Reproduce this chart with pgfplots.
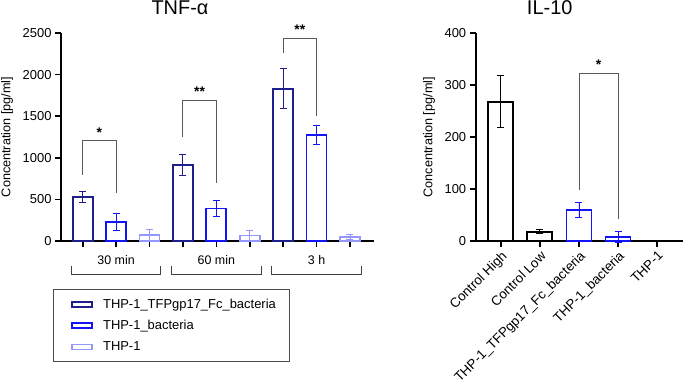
\documentclass[border=0pt]{standalone}
\usepackage{fontspec}
\setmainfont{Liberation Sans}
\usepackage{pgfplots}
\pgfplotsset{compat=1.18}

\definecolor{cfc}{RGB}{30,30,140}
\definecolor{cbac}{RGB}{20,20,250}
\definecolor{cthp}{RGB}{150,150,255}
\definecolor{brk}{RGB}{90,90,90}

\pgfplotsset{
  prism/.style={
    scale only axis,
    axis lines*=left,
    axis line style={line width=1.6bp, black},
    tick align=outside,
    major tick length=6bp,
    every tick/.style={line width=1.6bp, black},
    ymin=0,
    tick label style={font=\fontsize{13}{15}\selectfont},
    ylabel style={font=\fontsize{12.7}{14}\selectfont},
    /pgf/number format/assume math mode=true,
    /pgf/number format/1000 sep={},
    clip=false,
  },
  pbar/.style={ybar, bar width=#1, bar shift=0pt, fill=white, line width=1.8bp,
    legend image code/.code={
      \path[draw=none, fill=none] (-7bp,0bp) -- (29bp,0bp);
      \draw[##1, line width=1.6bp, fill=white] (0bp,-2.5bp) rectangle (20bp,2.5bp);}},
  perr/.style={
    /pgfplots/error bars/y dir=both,
    /pgfplots/error bars/y explicit,
    /pgfplots/error bars/error bar style={line width=0.9bp, color=#1},
    /pgfplots/error bars/error mark options={rotate=90, mark size=3.5bp, line width=0.9bp, color=#1}},
}

\begin{document}
\begin{tikzpicture}
\path[use as bounding box] (0bp,0bp) rectangle (685bp,385bp);

% ---- TNF-alpha
\begin{axis}[prism,
  at={(61bp,144bp)}, anchor=south west,
  width=313bp, height=208bp,
  xmin=-0.65, xmax=8.72, ymax=2500,
  ytick={0,500,...,2500},
  xtick={0,...,8}, xticklabels={},
  ylabel={Concentration [pg/ml]},
  ylabel style={at={(rel axis cs:-0.1725,0.5)}, anchor=center},
  legend style={at={(-0.0265,-0.2308)}, anchor=north west,
    draw=black!70, line width=0.8bp,
    font=\fontsize{13}{15}\selectfont,
    inner xsep=12bp, inner ysep=7.5bp, row sep=6.5bp,
    cells={anchor=west}},
  legend cell align=left,
]
\addplot[pbar=20bp, draw=cfc, perr=cfc] table[x=x, y=y, y error=e] {
x y e
0 530 70
3 910 125
6 1830 240
};
\addlegendentry{THP-1\_TFPgp17\_Fc\_bacteria}
\addplot[pbar=20bp, draw=cbac, perr=cbac] table[x=x, y=y, y error=e] {
x y e
1 230 100
4 390 95
7 1275 110
};
\addlegendentry{THP-1\_bacteria}
\addplot[pbar=20bp, draw=cthp, perr=cthp] table[x=x, y=y, y error=e] {
x y e
2 70 65
5 65 60
8 50 30
};
\addlegendentry{THP-1}

% significance brackets
\draw[brk, line width=0.9bp] (axis cs:0,793) |- (axis cs:1,1206) -- (axis cs:1,580);
\node[font=\fontsize{14}{14}\selectfont\bfseries, anchor=south] at (axis cs:0.5,1206) {*};
\draw[brk, line width=0.9bp] (axis cs:3,1246) |- (axis cs:4,1695) -- (axis cs:4,700);
\node[font=\fontsize{14}{14}\selectfont\bfseries, anchor=south] at (axis cs:3.5,1695) {**};
\draw[brk, line width=0.9bp] (axis cs:6,2256) |- (axis cs:7,2436) -- (axis cs:7,1502);
\node[font=\fontsize{14}{14}\selectfont\bfseries, anchor=south] at (axis cs:6.5,2436) {**};

% group brackets
\draw[black!75, line width=0.9bp] (axis cs:-0.35,-300) |- (axis cs:2.32,-397) -- (axis cs:2.32,-300);
\draw[black!75, line width=0.9bp] (axis cs:2.67,-300) |- (axis cs:5.35,-397) -- (axis cs:5.35,-300);
\draw[black!75, line width=0.9bp] (axis cs:5.66,-300) |- (axis cs:8.34,-397) -- (axis cs:8.34,-300);
\node[font=\fontsize{12.5}{14}\selectfont] at (axis cs:1,-228) {30 min};
\node[font=\fontsize{12.5}{14}\selectfont] at (axis cs:4,-228) {60 min};
\node[font=\fontsize{12.5}{14}\selectfont] at (axis cs:7,-228) {3 h};
\end{axis}

% ---- IL-10
\begin{axis}[prism,
  at={(475.7bp,144bp)}, anchor=south west,
  width=207.3bp, height=207.7bp,
  xmin=-0.64, xmax=4.66, ymax=400,
  ytick={0,100,...,400},
  xtick={0,...,4},
  xticklabels={Control High, Control Low, THP-1\_TFPgp17\_Fc\_bacteria, THP-1\_bacteria, THP-1},
  xticklabel style={rotate=45, anchor=north east, inner sep=2bp, font=\fontsize{13.4}{15}\selectfont},
  ylabel={Concentration [pg/ml]},
  ylabel style={at={(rel axis cs:-0.225,0.5)}, anchor=center},
]
\addplot[pbar=25bp, draw=black, perr=black] table[x=x, y=y, y error=e] {
x y e
0 268 50
1 18 4
4 0 0
};
\addplot[pbar=25bp, draw=cbac, perr=cbac] table[x=x, y=y, y error=e] {
x y e
2 60 14
3 8 10
};
\draw[brk, line width=0.9bp] (axis cs:2,98) |- (axis cs:3,323) -- (axis cs:3,42);
\node[font=\fontsize{14}{14}\selectfont\bfseries, anchor=south] at (axis cs:2.5,323) {*};
\end{axis}

\node[font=\fontsize{20}{24}\selectfont, anchor=base] at (180bp,370bp) {TNF-α};
\node[font=\fontsize{20}{24}\selectfont, anchor=base] at (549.7bp,370bp) {IL-10};
\end{tikzpicture}
\end{document}
